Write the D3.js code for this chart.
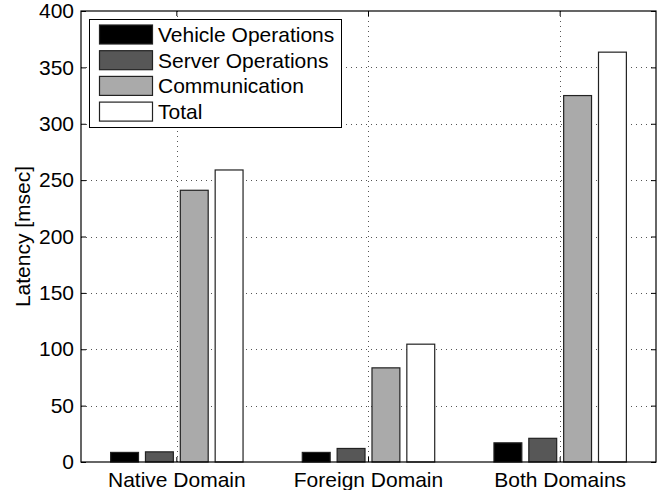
<!DOCTYPE html>
<html>
<head>
<meta charset="utf-8">
<script src="https://cdn.jsdelivr.net/npm/d3@7/dist/d3.min.js"></script>
<style>
  html, body { margin: 0; padding: 0; background: #fff; }
  svg { display: block; }
  text { font-family: "Liberation Sans", Arial, Helvetica, sans-serif; fill: #000; }
</style>
</head>
<body>
<svg id="chart" width="659" height="490"></svg>
<script>
// ---- data ----
const categories = ["Native Domain", "Foreign Domain", "Both Domains"];
const series = ["Vehicle Operations", "Server Operations", "Communication", "Total"];
const vehicleOps = [8.5, 8.5, 17];
const serverOps = [9, 12, 21];
const communication = [241, 83.5, 325];
const total = [259, 104.5, 363.5];
const yTicks = [0, 50, 100, 150, 200, 250, 300, 350, 400];
const colors = ["#000000", "#575757", "#aaaaaa", "#ffffff"];

const values = [vehicleOps, serverOps, communication, total];

// ---- layout ----
const svg = d3.select("#chart");
const pLeft = 81, pRight = 656, pTop = 11, pBottom = 462;
const fontSize = 21;

const x0 = d3.scaleBand().domain(categories).range([pLeft, pRight]).paddingInner(0).paddingOuter(0);
const x1 = d3.scaleBand().domain(series).range([0, x0.bandwidth()]).paddingInner(0.2).paddingOuter(0.85);
const y = d3.scaleLinear().domain([0, 400]).range([pBottom, pTop]);

// grid
const grid = svg.append("g").attr("stroke", "#555").attr("stroke-width", 1).attr("stroke-dasharray", "1,4");
grid.selectAll("line.h").data(yTicks.slice(1, -1)).join("line")
  .attr("x1", pLeft).attr("x2", pRight)
  .attr("y1", d => Math.round(y(d)) + 0.5).attr("y2", d => Math.round(y(d)) + 0.5);
grid.selectAll("line.v").data(categories).join("line")
  .attr("x1", d => Math.round(x0(d) + x0.bandwidth() / 2) + 0.5)
  .attr("x2", d => Math.round(x0(d) + x0.bandwidth() / 2) + 0.5)
  .attr("y1", pTop).attr("y2", pBottom);

// bars
const bars = svg.append("g");
categories.forEach((c, ci) => {
  series.forEach((s, si) => {
    const v = values[si][ci];
    bars.append("rect")
      .attr("x", x0(c) + x1(s))
      .attr("width", x1.bandwidth())
      .attr("y", y(v))
      .attr("height", y(0) - y(v))
      .attr("fill", colors[si])
      .attr("stroke", "#222")
      .attr("stroke-width", 1.2);
  });
});

// axes (MATLAB style, inward ticks, box)
const yAxisL = d3.axisLeft(y).tickValues(yTicks).tickSize(-5).tickPadding(7);
const gL = svg.append("g").attr("transform", `translate(${pLeft},0)`).call(yAxisL);
gL.select(".domain").remove();
gL.selectAll("text").attr("font-size", fontSize).style("font-family", "'Liberation Sans', Arial, sans-serif");
gL.selectAll("line").attr("stroke", "#000");

const yAxisR = d3.axisRight(y).tickValues(yTicks).tickSize(-5).tickFormat("");
const gR = svg.append("g").attr("transform", `translate(${pRight},0)`).call(yAxisR);
gR.select(".domain").remove();
gR.selectAll("line").attr("stroke", "#000");

const xAxisB = d3.axisBottom(x0).tickSize(-5).tickPadding(10);
const gB = svg.append("g").attr("transform", `translate(0,${pBottom})`).call(xAxisB);
gB.select(".domain").remove();
gB.selectAll("text").attr("font-size", fontSize).style("font-family", "'Liberation Sans', Arial, sans-serif");
gB.selectAll("line").attr("stroke", "#000");

const xAxisT = d3.axisTop(x0).tickSize(-5).tickFormat("");
const gT = svg.append("g").attr("transform", `translate(0,${pTop})`).call(xAxisT);
gT.select(".domain").remove();
gT.selectAll("line").attr("stroke", "#000");

svg.append("rect")
  .attr("x", pLeft).attr("y", pTop)
  .attr("width", pRight - pLeft).attr("height", pBottom - pTop)
  .attr("fill", "none").attr("stroke", "#000").attr("stroke-width", 1.2);

// y label
svg.append("text")
  .attr("transform", `translate(30,${(pTop + pBottom) / 2}) rotate(-90)`)
  .attr("text-anchor", "middle")
  .attr("font-size", fontSize)
  .text("Latency [msec]");

// legend
const lg = svg.append("g");
lg.append("rect").attr("x", 89.5).attr("y", 19.5).attr("width", 252).attr("height", 108)
  .attr("fill", "#fff").attr("stroke", "#000").attr("stroke-width", 1);
series.forEach((s, i) => {
  const ry = 25 + i * 25.7;
  lg.append("rect").attr("x", 99.5).attr("y", ry).attr("width", 53).attr("height", 19)
    .attr("fill", colors[i]).attr("stroke", "#222").attr("stroke-width", 1.2);
  lg.append("text").attr("x", 158).attr("y", ry + 9.5).attr("dy", "0.36em")
    .attr("font-size", fontSize).text(s);
});
</script>
</body>
</html>
